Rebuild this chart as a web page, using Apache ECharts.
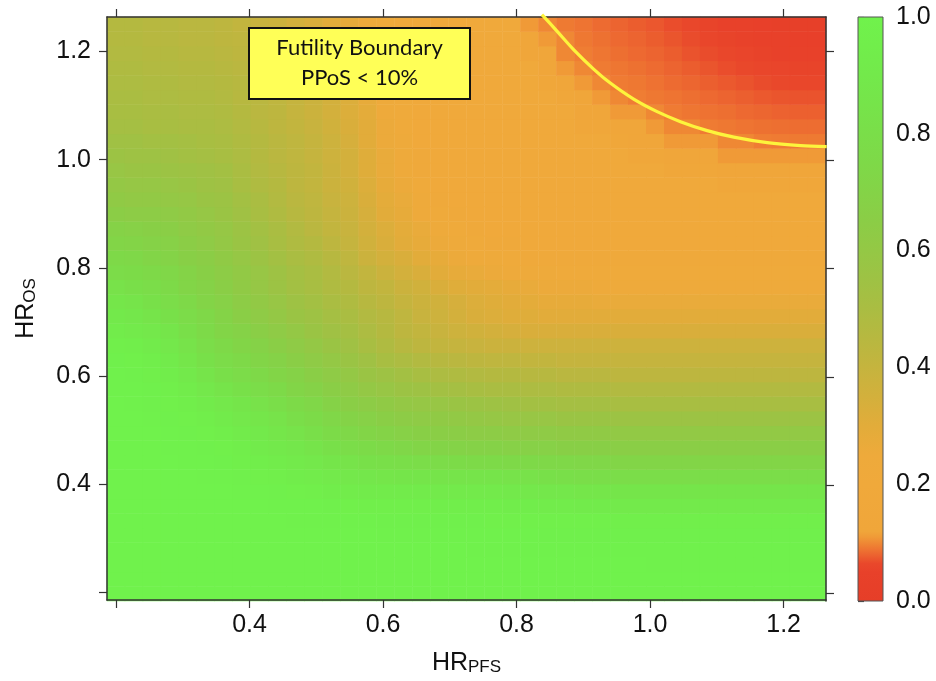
<!DOCTYPE html>
<html><head><meta charset="utf-8">
<script src="https://cdn.jsdelivr.net/npm/echarts@6/dist/echarts.min.js"></script>
<style>html,body{margin:0;padding:0;background:#fff}#c{width:936px;height:681px}</style>
</head><body><div id="c"></div>
<script>
// Grid of hazard ratios (cell centres)
const hrPFS = [0.200,0.227,0.254,0.281,0.308,0.335,0.362,0.388,0.415,0.442,0.469,0.496,0.523,0.550,0.577,0.604,0.631,0.658,0.685,0.712,0.738,0.765,0.792,0.819,0.846,0.873,0.900,0.927,0.954,0.981,1.008,1.035,1.062,1.088,1.115,1.142,1.169,1.196,1.223,1.250];
const hrOS  = [0.200,0.227,0.254,0.281,0.308,0.335,0.362,0.388,0.415,0.442,0.469,0.496,0.523,0.550,0.577,0.604,0.631,0.658,0.685,0.712,0.738,0.765,0.792,0.819,0.846,0.873,0.900,0.927,0.954,0.981,1.008,1.035,1.062,1.088,1.115,1.142,1.169,1.196,1.223,1.250];

// PPoS in percent; ppos[k][i] -> HR_OS = hrOS[k], HR_PFS = hrPFS[i]
const ppos = [
[100,100,100,100,100,100,100,100,100,100, 100,100,100,100,100,100,100,100,100,100, 100,100,100,100,100,100,100,100,100,100, 100,100,100,100,100,100,100,100,100,100],
[100,100,100,100,100,100,100,100,100,100, 100,100,100,100,100,100,100,100,100,100, 100,100,100,100,100,100,100,100,100,100, 100,100,100,100,100,100,100,100,100,100],
[100,100,100,100,100,100,100,100,100,100, 100,100,100,100,100,100,100,100,100,100, 100,100,100,100,100,100,100,100,100,100, 99,99,99,99,99,99,99,99,99,99],
[100,100,100,100,100,100,100,100,100,100, 100,100,100,100,100,100,100,100,100,100, 99,99,99,99,99,99,99,99,99,99, 99,99,99,99,99,99,99,99,99,99],
[100,100,100,100,100,100,100,100,100,100, 100,100,100,100,100,99,99,99,99,99, 99,99,99,99,98,98,98,98,98,98, 98,98,98,98,98,98,98,98,98,98],
[100,100,100,100,100,100,100,100,100,100, 99,99,99,99,99,98,98,98,98,98, 98,97,97,97,97,97,97,97,96,96, 96,96,96,96,96,96,96,96,96,96],
[100,100,100,100,100,100,100,100,100,99, 99,99,98,97,96,96,96,96,95,95, 95,95,94,94,93,93,92,92,91,91, 91,91,91,91,91,91,91,91,91,91],
[100,100,100,100,100,100,100,99,99,98, 97,96,94,93,92,92,92,92,91,91, 91,91,90,89,88,88,87,87,86,86, 86,86,86,86,86,86,86,86,86,86],
[100,100,100,100,100,99,99,98,97,96, 94,93,91,89,88,87,86,86,85,85, 85,85,84,83,82,81,80,80,79,79, 79,79,79,79,79,79,79,79,79,79],
[100,100,100,100,99,99,98,96,95,93, 91,89,86,84,82,81,80,79,78,77, 76,76,75,75,74,74,73,73,72,72, 72,72,72,72,72,72,72,72,72,72],
[100,100,100,99,99,98,97,95,92,90, 88,85,82,79,77,75,73,72,71,70, 69,69,68,68,68,67,67,67,66,66, 66,66,66,66,66,66,66,66,66,66],
[100,100,100,99,98,97,95,92,90,87, 84,81,77,74,72,70,68,67,66,65, 64,64,63,63,63,62,62,62,61,61, 61,61,61,61,61,61,61,61,61,61],
[100,100,99,98,97,95,92,89,87,84, 80,77,73,70,68,66,64,63,62,61, 60,59,58,58,58,57,57,57,56,56, 56,56,56,56,56,56,56,56,56,56],
[100,99,98,97,95,92,89,86,83,80, 76,73,69,66,64,62,60,59,58,57, 56,55,54,53,53,52,52,52,51,51, 51,51,51,51,51,51,51,51,51,51],
[99,99,98,96,93,89,85,82,79,76, 72,69,66,63,60,58,56,55,53,52, 51,50,50,49,49,48,48,48,47,47, 47,47,47,47,47,47,47,47,47,47],
[99,98,96,94,90,85,81,78,75,72, 69,66,63,60,57,55,53,51,49,48, 47,46,46,45,45,44,44,44,43,43, 43,43,43,43,43,43,43,43,43,43],
[98,97,95,92,87,82,78,75,72,69, 66,63,60,57,54,51,49,47,45,44, 43,42,42,41,41,40,40,40,40,40, 40,40,40,40,40,40,40,40,40,40],
[96,95,92,89,84,79,75,72,69,66, 63,60,57,54,51,48,45,43,41,40, 39,38,38,37,37,37,37,37,37,37, 37,37,37,37,37,37,37,37,37,37],
[93,91,89,86,81,76,72,69,66,63, 60,57,54,52,49,46,43,41,39,37, 36,35,34,33,33,33,33,33,33,33, 33,33,33,33,33,33,33,33,33,33],
[90,88,85,82,78,74,70,66,63,60, 57,55,52,50,47,45,42,39,37,35, 33,32,31,31,30,30,30,30,30,30, 30,30,30,30,30,30,30,30,30,30],
[87,85,82,79,75,71,68,64,61,58, 55,53,50,48,45,43,40,38,36,34, 32,31,30,29,28,28,28,27,27,27, 27,27,27,27,27,27,27,27,27,27],
[83,81,79,76,72,69,66,62,59,56, 53,51,48,46,43,41,38,36,33,31, 30,29,28,27,26,26,26,25,25,25, 25,25,25,25,25,25,25,25,25,25],
[78,77,75,73,70,67,64,61,58,55, 52,50,47,44,41,38,35,33,30,28, 27,26,25,24,24,23,23,23,23,23, 23,23,23,23,23,23,23,23,23,23],
[75,74,72,70,67,65,62,59,56,53, 50,48,45,42,38,35,33,30,28,26, 25,24,23,22,22,22,22,22,22,22, 22,22,22,22,22,22,22,22,22,22],
[72,71,69,68,65,63,60,57,54,51, 48,46,43,40,36,33,30,28,26,24, 23,22,22,21,21,21,21,21,21,21, 21,21,21,21,21,21,21,21,21,21],
[69,68,67,66,63,61,59,56,53,50, 47,44,41,39,35,32,29,27,25,23, 22,21,21,20,20,20,20,20,20,20, 20,20,20,20,20,20,20,20,20,20],
[65,64,64,63,61,59,57,54,51,48, 45,43,40,38,34,30,28,25,23,22, 21,20,20,20,20,20,20,20,20,20, 20,20,20,20,20,20,20,20,20,20],
[62,61,61,60,59,57,56,53,50,47, 44,42,39,37,33,29,27,24,22,21, 20,20,20,20,20,20,20,20,20,20, 20,20,20,20,20,20,20,20,20,20],
[60,59,59,58,57,55,54,51,48,46, 43,41,38,36,32,28,26,23,21,20, 20,20,20,20,20,20,20,20,20,20, 20,20,20,20,15,15,15,15,15,15],
[58,57,57,56,55,54,53,50,47,45, 43,41,38,35,31,27,25,22,21,20, 20,20,20,20,20,20,20,20,20,20, 20,15,15,15,12,12,12,12,12,12],
[56,55,55,54,53,52,51,49,46,44, 42,40,37,35,31,27,24,22,21,20, 20,20,20,20,20,20,20,20,20,15, 15,12,12,12,11,11,11,11,11,11],
[54,54,53,53,52,51,50,48,46,44, 42,40,37,34,30,26,24,21,20,20, 20,20,20,20,20,20,20,20,15,12, 12,11,11,11,10,10,9.4,9.3,9.2,9.2],
[52,52,51,51,50,50,49,47,45,43, 41,39,36,33,30,26,23,21,20,20, 20,20,20,20,20,20,15,15,12,12, 11,10,10,9.3,9.1,8.9,8.7,8.6,8.5,8.5],
[51,51,50,50,49,49,48,46,44,43, 40,38,35,32,29,25,23,21,20,20, 20,20,20,20,20,20,12,12,11,11, 10,9.3,9,8.8,8.6,8.3,8.1,7.9,7.8,7.8],
[50,50,49,49,48,48,47,45,44,42, 40,38,35,32,28,25,23,21,20,20, 20,20,20,20,20,15,12,11,10,9.4, 9.1,8.9,8.6,8.3,8,7.7,7.4,7.2,7.1,7.1],
[49,49,48,48,47,47,46,45,43,42, 39,37,34,31,28,24,22,21,20,20, 20,20,20,20,15,12,11,10,9.3,9.1, 8.8,8.4,8.1,7.7,7.4,7.1,6.7,6.5,6.3,6.3],
[48,48,47,47,46,46,45,44,42,41, 38,36,33,30,27,24,22,21,20,20, 20,20,20,20,12,11,10,9.3,9,8.7, 8.4,8,7.6,7.2,6.8,6.5,6.1,5.8,5.6,5.6],
[47,47,46,46,45,45,44,43,41,40, 37,35,32,29,26,23,21,20,20,20, 20,20,20,12,12,10,9.4,9,8.6,8.3, 8,7.6,7.1,6.7,6.3,5.8,5.4,5.1,4.9,4.9],
[46,46,45,45,44,44,43,42,40,39, 36,34,31,28,25,23,21,20,20,20, 20,20,20,12,11,10,9.1,8.7,8.3,8, 7.6,7.2,6.7,6.1,5.7,5.2,4.7,4.4,4.2,4.2],
[46,46,45,45,44,44,43,41,39,38, 35,33,30,28,25,23,21,20,20,20, 20,20,19,11,10,9.2,8.9,8.4,8,7.6, 7.3,6.8,6.2,5.6,5.1,4.6,4,3.7,3.4,3.4]
];

// Futility boundary (PPoS = 10%)
const boundaryPFS = [0.838,0.8605,0.8854,0.9154,0.9404,0.9754,1.0105,1.0455,1.0855,1.1254,1.1755,1.2255,1.2645];
const boundaryOS  = [1.268,1.2375,1.2033,1.1673,1.1414,1.1118,1.0887,1.0702,1.0536,1.0416,1.0314,1.0259,1.0240];

// Axis ticks / labels
const axisTicks = [0.2,0.4,0.6,0.8,1.0,1.2];
const axisLabels = [0.4,0.6,0.8,1.0,1.2];

// Colour scale (percent -> colour)
const colorStops = [
 [0,'#e63e28'],[5,'#e8412a'],[6.5,'#e9482b'],[8,'#ec6430'],[9,'#ee7632'],[10,'#ef8834'],
 [11,'#f09a37'],[12,'#f0a63a'],[20,'#f0a93b'],[25,'#eeaa3b'],[30,'#e2ac3a'],[35,'#d3b03c'],
 [40,'#c5b43e'],[45,'#b7b840'],[50,'#aabd42'],[55,'#9ec244'],[60,'#94c845'],[65,'#8bcd46'],
 [70,'#84d347'],[75,'#7ed948'],[80,'#7ade49'],[85,'#76e44a'],[90,'#73e94b'],[95,'#71ee4b'],[100,'#70f24c']
];
function hexToRgb(h){return [parseInt(h.slice(1,3),16),parseInt(h.slice(3,5),16),parseInt(h.slice(5,7),16)];}
function colorAt(v){
  for (let k=1;k<colorStops.length;k++){
    const v1=colorStops[k-1][0], c1=colorStops[k-1][1], v2=colorStops[k][0], c2=colorStops[k][1];
    if (v<=v2){
      const t=(v-v1)/(v2-v1), a=hexToRgb(c1), b=hexToRgb(c2);
      return 'rgb('+a.map((x,n)=>Math.round(x+(b[n]-x)*t)).join(',')+')';
    }
  }
  return colorStops[colorStops.length-1][1];
}
const scaleColors=[]; for (let s=0;s<=200;s++) scaleColors.push(colorAt(s/2));

const heatData=[];
ppos.forEach((row,k)=>row.forEach((v,i)=>heatData.push([i,k,v])));
const boundary = boundaryPFS.map((x,n)=>[x,boundaryOS[n]]);

const FONT = "'Liberation Sans', Arial, Helvetica, sans-serif";
const AX = {min:0.1865, max:1.2635};
const lineSt = {color:'#333', width:1.5};
const tickSt = {color:'#333', width:1.2};
const nameRich = {
  m:{fontSize:25,fontFamily:FONT,color:'#111',lineHeight:30,verticalAlign:'bottom'},
  s:{fontSize:17,fontFamily:FONT,color:'#111',lineHeight:16,verticalAlign:'bottom'}
};
const labelSt = {fontSize:25,fontFamily:FONT,color:'#111'};
const plotRect = {left:107, top:17, width:719, height:584};

const chart = echarts.init(document.getElementById('c'), null, {renderer:'canvas'});
chart.setOption({
  animation:false,
  backgroundColor:'#ffffff',
  grid:[
    Object.assign({}, plotRect),
    Object.assign({}, plotRect),
    Object.assign({}, plotRect),
    {left:858, top:17, width:25, height:584}
  ],
  visualMap:{type:'continuous', show:false, min:0, max:100, seriesIndex:0, inRange:{color:scaleColors}},
  xAxis:[
    {gridIndex:0, type:'category', data:hrPFS.map(String), show:false},
    {gridIndex:1, type:'value', min:AX.min, max:AX.max, position:'bottom', z:5,
      axisLine:{show:true, onZero:false, lineStyle:lineSt},
      axisTick:{show:true, length:8, customValues:axisTicks, lineStyle:tickSt},
      axisLabel:Object.assign({customValues:axisLabels, formatter:v=>v.toFixed(1), margin:13}, labelSt),
      splitLine:{show:false},
      name:'{m|HR}{s|PFS}', nameLocation:'middle', nameGap:46, nameTextStyle:{rich:nameRich}},
    {gridIndex:2, type:'value', min:AX.min, max:AX.max, position:'top', z:5,
      axisLine:{show:true, onZero:false, lineStyle:lineSt},
      axisTick:{show:true, length:8, customValues:axisTicks, lineStyle:tickSt},
      axisLabel:{show:false}, splitLine:{show:false}},
    {gridIndex:3, type:'value', min:0, max:1, show:false}
  ],
  yAxis:[
    {gridIndex:0, type:'category', data:hrOS.map(String), show:false},
    {gridIndex:1, type:'value', min:AX.min, max:AX.max, position:'left', z:5,
      axisLine:{show:true, onZero:false, lineStyle:lineSt},
      axisTick:{show:true, length:8, customValues:axisTicks, lineStyle:tickSt},
      axisLabel:Object.assign({customValues:axisLabels, formatter:v=>v.toFixed(1), margin:16}, labelSt),
      splitLine:{show:false},
      name:'{m|HR}{s|OS}', nameLocation:'middle', nameRotate:90, nameGap:68, nameTextStyle:{rich:nameRich}},
    {gridIndex:2, type:'value', min:AX.min, max:AX.max, position:'right', z:5,
      axisLine:{show:true, onZero:false, lineStyle:lineSt},
      axisTick:{show:true, length:8, customValues:axisTicks, lineStyle:tickSt},
      axisLabel:{show:false}, splitLine:{show:false}},
    {gridIndex:3, type:'value', min:0, max:100, interval:20, position:'right',
      axisLine:{show:false},
      axisTick:{show:true, length:6, lineStyle:{color:'#444', width:1.2}},
      axisLabel:Object.assign({formatter:v=>(v/100).toFixed(1), margin:13}, labelSt),
      splitLine:{show:false}}
  ],
  series:[
    {type:'heatmap', xAxisIndex:0, yAxisIndex:0, data:heatData, silent:true,
      emphasis:{disabled:true}, itemStyle:{borderWidth:0}},
    {type:'line', xAxisIndex:1, yAxisIndex:1, data:boundary, smooth:0.3,
      showSymbol:false, symbol:'none', clip:false, z:6, silent:true,
      lineStyle:{color:'#fdf43c', width:3.2}}
  ],
  graphic:[
    {type:'rect', z:100, shape:{x:858, y:17, width:25, height:584},
      style:{fill:{type:'linear', x:0, y:1, x2:0, y2:0,
        colorStops:colorStops.map(s=>({offset:s[0]/100, color:s[1]}))},
        stroke:'#555', lineWidth:1}},
    {type:'rect', z:100, shape:{x:249, y:28, width:221, height:71},
      style:{fill:'#ffff57', stroke:'#111', lineWidth:2}},
    {type:'text', z:101, x:359.5, y:48,
      style:{text:'Futility Boundary', font:"22px Lato, 'Open Sans', sans-serif", fill:'#111', align:'center', verticalAlign:'middle'}},
    {type:'text', z:101, x:359.5, y:78,
      style:{text:'PPoS < 10%', font:"22px Lato, 'Open Sans', sans-serif", fill:'#111', align:'center', verticalAlign:'middle'}}
  ]
});
</script>
</body></html>
